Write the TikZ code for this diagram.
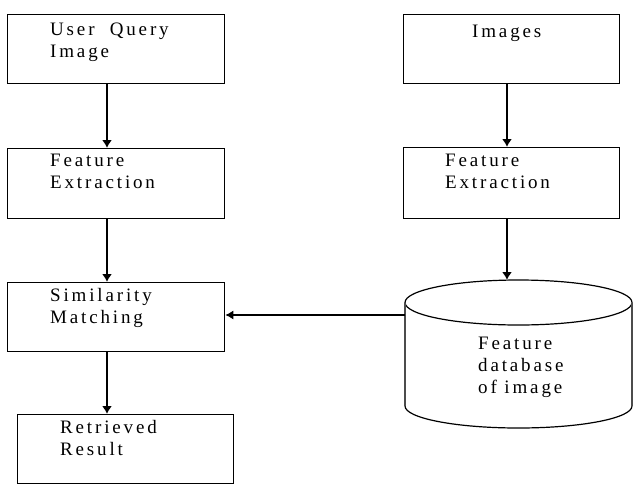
\documentclass[tikz,border=0pt]{standalone}
\usepackage{fontspec}
\setmainfont{Liberation Serif}[LetterSpace=15]
\usetikzlibrary{arrows.meta}
\begin{document}
\begin{tikzpicture}[x=1pt,y=-1pt,
  box/.style={draw, line width=1.3pt, inner sep=0pt, anchor=north west},
  lbl/.style={anchor=base west, inner sep=0pt, align=left, font=\fontsize{19}{22}\selectfont},
  arr/.style={line width=1.6pt, -{Latex[length=8pt,width=10pt]}},
  harr/.style={line width=1.2pt, -{Latex[length=8pt,width=9pt]}}]
\useasboundingbox (0,0) rectangle (637,490);
% boxes
\node[box, minimum width=217pt, minimum height=69pt] (uq) at (7,14) {};
\node[box, minimum width=216pt, minimum height=69pt] (img) at (403,14) {};
\node[box, minimum width=217pt, minimum height=70pt] (fe1) at (7,148) {};
\node[box, minimum width=216pt, minimum height=71pt] (fe2) at (403,147) {};
\node[box, minimum width=217pt, minimum height=69pt] (sm) at (7,282) {};
\node[box, minimum width=216pt, minimum height=69pt] (rr) at (17,414) {};
% cylinder
\fill[white] (405,302.5) -- (405,406) arc[start angle=180, end angle=360, x radius=113.5pt, y radius=22pt] -- (632,302.5) -- cycle;
\draw[line width=1.2pt] (405,406) arc[start angle=180, end angle=360, x radius=113.5pt, y radius=22pt];
\draw[line width=1.2pt] (518.5,302.5) ellipse[x radius=113.5pt, y radius=22.5pt];
\draw[line width=2.4pt, gray!60!black] (405,302.5) -- (405,406);
\draw[line width=2.4pt, gray!60!black] (632,302.5) -- (632,406);
\coordinate (dbtop) at (507,280);
\coordinate (dbl) at (405,315);
\coordinate (lx) at (107,0);
\coordinate (rx) at (507,0);
% labels (anchored at the baseline of the last line)
\node[lbl] (t1) at (50,57) {User\ \ Query\\Image};
\node[lbl] (t2) at (472,37) {Images};
\node[lbl] (t3) at (50,188) {Feature\\Extraction};
\node[lbl] (t4) at (445,188) {Feature\\Extraction};
\node[lbl] (t5) at (50,323) {Similarity\\Matching};
\node[lbl] (t6) at (478,393) {Feature\\database\\of image};
\node[lbl] (t7) at (60,455) {Retrieved\\Result};
% connectors
\draw[arr] (uq.south -| lx) -- (fe1.north -| lx);
\draw[arr] (fe1.south -| lx) -- (sm.north -| lx);
\draw[arr] (sm.south -| lx) -- (rr.north -| lx);
\draw[arr] (img.south -| rx) -- (fe2.north -| rx);
\draw[arr] (fe2.south -| rx) -- (dbtop);
\draw[harr] (dbl) -- (dbl -| sm.east);
\end{tikzpicture}
\end{document}
